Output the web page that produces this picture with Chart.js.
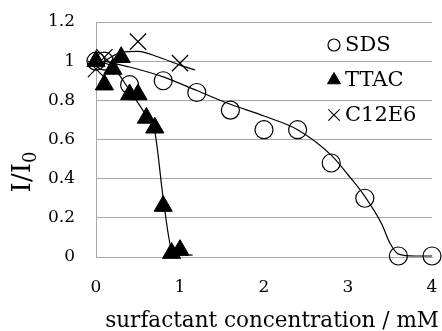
<!DOCTYPE html>
<html>
<head>
<meta charset="utf-8">
<script src="https://cdn.jsdelivr.net/npm/chart.js@4.4.1/dist/chart.umd.min.js"></script>
<style>
  body { margin: 0; background: #fff; }
  #wrap { width: 442px; height: 331px; position: relative; }
</style>
</head>
<body>
<div id="wrap"><canvas id="IntensityChart"></canvas></div>
<script>
Chart.defaults.font.family = "'DejaVu Serif', serif";
Chart.defaults.font.size = 17;
Chart.defaults.color = 'black';

// measured points
const sdsX = [0, 0.1, 0.4, 0.8, 1.2, 1.6, 2.0, 2.4, 2.8, 3.2, 3.6, 4.0];
const sdsY = [1.0, 1.0, 0.88, 0.9, 0.84, 0.75, 0.65, 0.65, 0.48, 0.30, 0.005, 0.005];

const ttacX = [0, 0.1, 0.2, 0.3, 0.4, 0.5, 0.6, 0.7, 0.8, 0.9, 1.0];
const ttacY = [1.0, 0.88, 0.96, 1.02, 0.83, 0.83, 0.71, 0.66, 0.26, 0.02, 0.035];

const c12X = [0, 0.1, 0.5, 1.0];
const c12Y = [0.96, 1.02, 1.10, 0.99];

// fitted curves
const sdsFitX = [0.1, 0.4, 0.8, 1.2, 1.6, 2.0, 2.4, 2.8, 3.0, 3.2, 3.4, 3.5, 3.6, 3.8, 4.0];
const sdsFitY = [1.0, 0.97, 0.92, 0.85, 0.78, 0.72, 0.65, 0.52, 0.42, 0.31, 0.17, 0.07, 0.015, 0.005, 0.005];

const ttacFitX = [0, 0.2, 0.4, 0.6, 0.7, 0.8, 0.9, 1.0, 1.15];
const ttacFitY = [1.0, 0.97, 0.85, 0.72, 0.64, 0.30, 0.04, 0.015, 0.01];

const c12FitX = [0.1, 0.3, 0.5, 0.75, 1.0, 1.18];
const c12FitY = [1.0, 1.045, 1.05, 1.02, 0.98, 0.955];

const xTicks = [0, 1, 2, 3, 4];
const yTicks = [0, 0.2, 0.4, 0.6, 0.8, 1, 1.2];

const legendNames = ['SDS', 'TTAC', 'C12E6'];

function toPts(xs, ys) {
    return xs.map((x, i) => ({ x: x, y: ys[i] }));
}

function fitLine(xs, ys) {
    return {
        data: toPts(xs, ys),
        showLine: true,
        borderColor: 'black',
        borderWidth: 1.2,
        pointRadius: 0,
        cubicInterpolationMode: 'monotone',
        fill: false,
        clip: false
    };
}

const markerStyles = [
    { pointStyle: 'circle', radius: 9, borderWidth: 1.2, backgroundColor: 'rgba(0,0,0,0)', borderColor: 'black' },
    { pointStyle: 'triangle', radius: 10.5, borderWidth: 1, backgroundColor: 'black', borderColor: 'black' },
    { pointStyle: 'crossRot', radius: 11.5, borderWidth: 1.2, backgroundColor: 'black', borderColor: 'black' }
];

function markers(xs, ys, st) {
    return {
        data: toPts(xs, ys),
        showLine: false,
        pointStyle: st.pointStyle,
        pointRadius: st.radius,
        pointBorderWidth: st.borderWidth,
        pointBackgroundColor: st.backgroundColor,
        pointBorderColor: st.borderColor,
        clip: false
    };
}

// legend + axis titles drawn over the plot like the original
const overlay = {
    id: 'overlay',
    afterDatasetsDraw(chart) {
        const ctx = chart.ctx;
        const legendY = [45, 80, 115];
        const legendSizes = [6, 7.5, 8];
        ctx.save();
        for (let i = 0; i < legendNames.length; i++) {
            const st = markerStyles[i];
            ctx.fillStyle = st.backgroundColor;
            ctx.strokeStyle = 'black';
            ctx.lineWidth = st.borderWidth;
            Chart.helpers.drawPoint(ctx, {
                pointStyle: st.pointStyle,
                radius: legendSizes[i],
                borderWidth: st.borderWidth,
                rotation: 0
            }, 334, legendY[i]);
            ctx.fillStyle = 'black';
            ctx.font = "21px 'DejaVu Serif'";
            ctx.textBaseline = 'middle';
            ctx.textAlign = 'left';
            ctx.fillText(legendNames[i], 345, legendY[i] + 1);
        }

        // x title
        ctx.font = "21.5px 'DejaVu Serif'";
        ctx.textAlign = 'center';
        ctx.textBaseline = 'alphabetic';
        ctx.fillText('surfactant concentration / mM', 272, 327);

        // y title I/I0 rotated
        ctx.translate(21, 172);
        ctx.rotate(-Math.PI / 2);
        ctx.font = "26px 'DejaVu Serif'";
        const w1 = ctx.measureText('I/I').width;
        ctx.font = "18px 'DejaVu Serif'";
        const w2 = ctx.measureText('0').width;
        const start = -(w1 + w2) / 2;
        ctx.textAlign = 'left';
        ctx.textBaseline = 'alphabetic';
        ctx.font = "26px 'DejaVu Serif'";
        ctx.fillText('I/I', start, 9);
        ctx.font = "18px 'DejaVu Serif'";
        ctx.fillText('0', start + w1, 15);
        ctx.restore();
    }
};

var ctx = document.getElementById('IntensityChart').getContext('2d');

var IntensityChart = new Chart(ctx, {
    type: 'scatter',
    data: {
        datasets: [
            fitLine(sdsFitX, sdsFitY),
            fitLine(ttacFitX, ttacFitY),
            fitLine(c12FitX, c12FitY),
            markers(sdsX, sdsY, markerStyles[0]),
            markers(ttacX, ttacY, markerStyles[1]),
            markers(c12X, c12Y, markerStyles[2])
        ]
    },
    options: {
        responsive: true,
        maintainAspectRatio: false,
        animation: false,
        layout: {
            autoPadding: false,
            padding: { top: 22, right: 10, left: 0, bottom: 0 }
        },
        plugins: {
            legend: { display: false },
            tooltip: { enabled: false }
        },
        scales: {
            x: {
                type: 'linear',
                min: 0,
                max: 4,
                afterBuildTicks: (s) => { s.ticks = xTicks.map(v => ({ value: v })); },
                afterFit: (s) => { s.height = 74; },
                ticks: { padding: 3, font: { size: 17 }, callback: (v) => String(v) },
                grid: { color: 'rgba(0,0,0,0)', tickColor: 'rgba(0,0,0,0)', drawTicks: true, tickLength: 17 },
                border: { display: true, color: '#a6a6a6', width: 1 }
            },
            y: {
                type: 'linear',
                min: 0,
                max: 1.2,
                afterBuildTicks: (s) => { s.ticks = yTicks.map(v => ({ value: v })); },
                afterFit: (s) => { s.width = 96; },
                ticks: { padding: 3, font: { size: 17 }, callback: (v) => String(Math.round(v * 10) / 10) },
                grid: { color: '#a6a6a6', lineWidth: 1, tickColor: 'rgba(0,0,0,0)', drawTicks: true, tickLength: 18 },
                border: { display: true, color: '#a6a6a6', width: 1 }
            }
        }
    },
    plugins: [overlay]
});
</script>
</body>
</html>
